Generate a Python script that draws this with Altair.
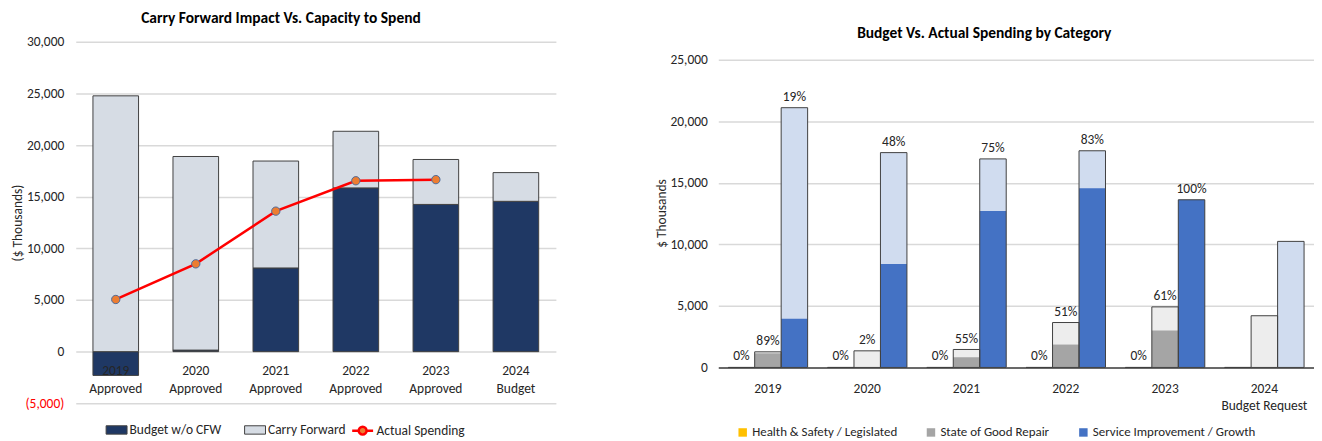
import altair as alt
import pandas as pd

FONT = "Carlito, 'Liberation Sans Narrow', 'Liberation Sans', sans-serif"
TXT = "#262626"
FS = 13.5

# ---------------- Left chart data ----------------
left_years = ["2019|Approved", "2020|Approved", "2021|Approved", "2022|Approved", "2023|Approved", "2024|Budget"]
left_series = ["Budget w/o CFW", "Carry Forward"]
budget_wo_cfw = [-2300, 150, 8100, 15850, 14250, 14550]
carry_forward = [24760, 18740, 10350, 5480, 4350, 2780]
actual_years = ["2019|Approved", "2020|Approved", "2021|Approved", "2022|Approved", "2023|Approved"]
actual_spending = [5050, 8500, 13600, 16540, 16650]

# ---------------- Right chart data ----------------
right_years = ["2019", "2020", "2021", "2022", "2023", "2024|Budget Request"]
categories = ["Health & Safety / Legislated", "State of Good Repair", "Service Improvement / Growth"]
hs_budget = [0, 0, 0, 0, 0, 0]
hs_actual = [0, 0, 0, 0, 0, 0]
hs_pct = ["0%", "0%", "0%", "0%", "0%", ""]
sogr_budget = [1270, 1350, 1460, 3650, 4920, 4200]
sogr_actual = [1150, 30, 830, 1860, 3000, 0]
sogr_pct = ["89%", "2%", "55%", "51%", "61%", ""]
sig_budget = [21100, 17450, 16940, 17600, 13620, 10240]
sig_actual = [3950, 8400, 12700, 14560, 13620, 0]
sig_pct = ["19%", "48%", "75%", "83%", "100%", ""]

NUM_EXPR = "datum.value < 0 ? '(' + format(-datum.value, ',') + ')' : format(datum.value, ',')"

# ---------------- Left chart ----------------
rows = []
for i, y in enumerate(left_years):
    rows.append({"year": y, "series": left_series[0], "value": budget_wo_cfw[i], "ord": 0})
    rows.append({"year": y, "series": left_series[1], "value": carry_forward[i], "ord": 1})
left_df = pd.DataFrame(rows)
line_df = pd.DataFrame({"year": actual_years, "value": actual_spending, "series": "Actual Spending"})

x_left = alt.X(
    "year:N", sort=left_years,
    scale=alt.Scale(paddingInner=0.43, paddingOuter=0.215),
    axis=alt.Axis(title=None, labelExpr="split(datum.label, '|')", labelAngle=0, offset=-52,
                  domain=False, ticks=False, labelPadding=12, labelFontSize=FS, labelLineHeight=18,
                  zindex=1, labelColor=TXT, labelFont=FONT),
)
y_left = alt.Y(
    "value:Q", stack="zero",
    scale=alt.Scale(domain=[-5000, 30000], nice=False),
    axis=alt.Axis(values=list(range(-5000, 30001, 5000)), title="($ Thousands)", titleX=-51,
                  titleFontWeight="normal", titleFontSize=FS, titleColor=TXT, titleFont=FONT,
                  labelExpr=NUM_EXPR,
                  labelColor={"condition": {"test": "datum.value < 0", "value": "#FF0000"}, "value": TXT},
                  labelFontSize=FS, labelFont=FONT, labelPadding=12, domain=False, ticks=False,
                  gridColor="#D9D9D9", gridWidth=1.5),
)

LINE_SYM = "M-1.6,0H-0.6M0.6,0H1.6M0.6,0A0.6,0.6,0,1,1,-0.6,0A0.6,0.6,0,1,1,0.6,0Z"
RECT_SYM = "M-1,-0.4H1V0.4H-1Z"

bars = alt.Chart(left_df).mark_bar(stroke="#404040", strokeWidth=1).encode(
    x=x_left, y=y_left,
    color=alt.Color("series:N", scale=alt.Scale(domain=left_series, range=["#1F3864", "#D6DCE4"]),
                    legend=alt.Legend(title=None, orient="none", legendX=30, legendY=378.5, direction="horizontal",
                                      symbolType=RECT_SYM, symbolSize=441, symbolStrokeColor="#404040",
                                      symbolStrokeWidth=1, labelOffset=2, columnPadding=20,
                                      labelFontSize=FS, labelFont=FONT, labelColor=TXT)),
    order=alt.Order("ord:Q"),
)

line_legend = alt.Legend(title=None, orient="none", legendX=280, legendY=382.5, direction="horizontal",
                         symbolType=LINE_SYM, symbolSize=172, symbolStrokeWidth=2.5, labelOffset=6,
                         labelFontSize=FS, labelFont=FONT, labelColor=TXT)
line = alt.Chart(line_df).mark_line(strokeWidth=2.5).encode(
    x=alt.X("year:N", sort=left_years), y=alt.Y("value:Q"),
    stroke=alt.Stroke("series:N", scale=alt.Scale(domain=["Actual Spending"], range=["#FF0000"]),
                      legend=line_legend),
)
points = alt.Chart(line_df).mark_circle(size=70, opacity=1, stroke="#4A6A9B", strokeWidth=1).encode(
    x=alt.X("year:N", sort=left_years), y=alt.Y("value:Q"),
    fill=alt.Fill("series:N", scale=alt.Scale(domain=["Actual Spending"], range=["#ED7D31"]),
                  legend=line_legend),
)

left = alt.layer(bars, line, points).properties(
    width=482, height=363,
    title=alt.TitleParams("Carry Forward Impact Vs. Capacity to Spend", dx=-35, offset=8, fontSize=15.5,
                          fontWeight="bold", font=FONT, color="#000000", anchor="middle"),
)

# ---------------- Right chart ----------------
rrows = []
budgets = [hs_budget, sogr_budget, sig_budget]
actuals = [hs_actual, sogr_actual, sig_actual]
pcts = [hs_pct, sogr_pct, sig_pct]
for i, y in enumerate(right_years):
    for c, cat in enumerate(categories):
        rrows.append({"year": y, "cat": cat, "budget": budgets[c][i], "actual": actuals[c][i], "pct": pcts[c][i]})
right_df = pd.DataFrame(rrows)

budget_keys = [c + " (Budget)" for c in categories]
color_domain = categories + budget_keys
color_range = ["#FFC000", "#A5A5A5", "#4472C4", "#FFE699", "#EDEDED", "#D0DCEF"]

x_right = alt.X(
    "year:N", sort=right_years,
    scale=alt.Scale(paddingInner=0.2, paddingOuter=0.1),
    axis=alt.Axis(title=None, labelExpr="split(datum.label, '|')", labelAngle=0, ticks=False,
                  domainColor="#404040", domainWidth=1.5, labelPadding=14, labelFontSize=FS,
                  labelLineHeight=17, labelColor=TXT, labelFont=FONT),
)
xo = alt.XOffset("cat:N", sort=categories, scale=alt.Scale(domain=categories, paddingInner=0, paddingOuter=0))
y_scale = alt.Scale(domain=[0, 26460], nice=False)
y_axis = alt.Axis(values=list(range(0, 25001, 5000)), title="$ Thousands", titleX=-50, titleY=172,
                  titleFontWeight="normal", titleFontSize=FS, titleColor=TXT, titleFont=FONT,
                  labelExpr=NUM_EXPR, labelFontSize=FS, labelFont=FONT, labelColor=TXT, labelPadding=11,
                  domain=False, ticks=False, gridColor="#D9D9D9", gridWidth=1.5)

right_legend = alt.Legend(title=None, orient="none", legendX=18, legendY=385.5, direction="horizontal",
                          values=categories, symbolType="square", symbolSize=72, symbolStrokeWidth=0,
                          labelOffset=3, columnPadding=27, labelFontSize=13, labelLimit=400,
                          labelFont=FONT, labelColor=TXT)
color_scale = alt.Scale(domain=color_domain, range=color_range)

budget_bars = alt.Chart(right_df).transform_calculate(
    bkey="datum.cat + ' (Budget)'"
).mark_bar().encode(
    x=x_right, xOffset=xo,
    y=alt.Y("budget:Q", scale=y_scale, axis=y_axis),
    color=alt.Color("bkey:N", scale=color_scale, legend=right_legend),
)
actual_bars = alt.Chart(right_df).mark_bar().encode(
    x=x_right, xOffset=xo,
    y=alt.Y("actual:Q", scale=y_scale),
    color=alt.Color("cat:N", scale=color_scale, legend=right_legend),
)
outline = alt.Chart(right_df).mark_bar(fillOpacity=0, stroke="#404040", strokeWidth=1).encode(
    x=x_right, xOffset=xo, y=alt.Y("budget:Q", scale=y_scale),
)
labels = alt.Chart(right_df).mark_text(baseline="bottom", dy=-4, fontSize=FS, font=FONT, color=TXT).encode(
    x=x_right, xOffset=xo, y=alt.Y("budget:Q", scale=y_scale), text="pct:N",
)

right = alt.layer(budget_bars, actual_bars, outline, labels).properties(
    width=598, height=327,
    title=alt.TitleParams("Budget Vs. Actual Spending by Category", dx=-32, offset=0, fontSize=15.5,
                          fontWeight="bold", font=FONT, color="#000000", anchor="middle"),
)

chart = alt.hconcat(left, right, spacing=163, bounds="flush").resolve_scale(
    color="independent", fill="independent", stroke="independent"
).resolve_legend(
    color="independent", fill="independent", stroke="independent"
).properties(
    padding={"left": 3, "top": 2, "right": 0, "bottom": 0}
).configure_view(stroke=None)

chart.save("out.html", embed_options={"renderer": "svg", "actions": False})
